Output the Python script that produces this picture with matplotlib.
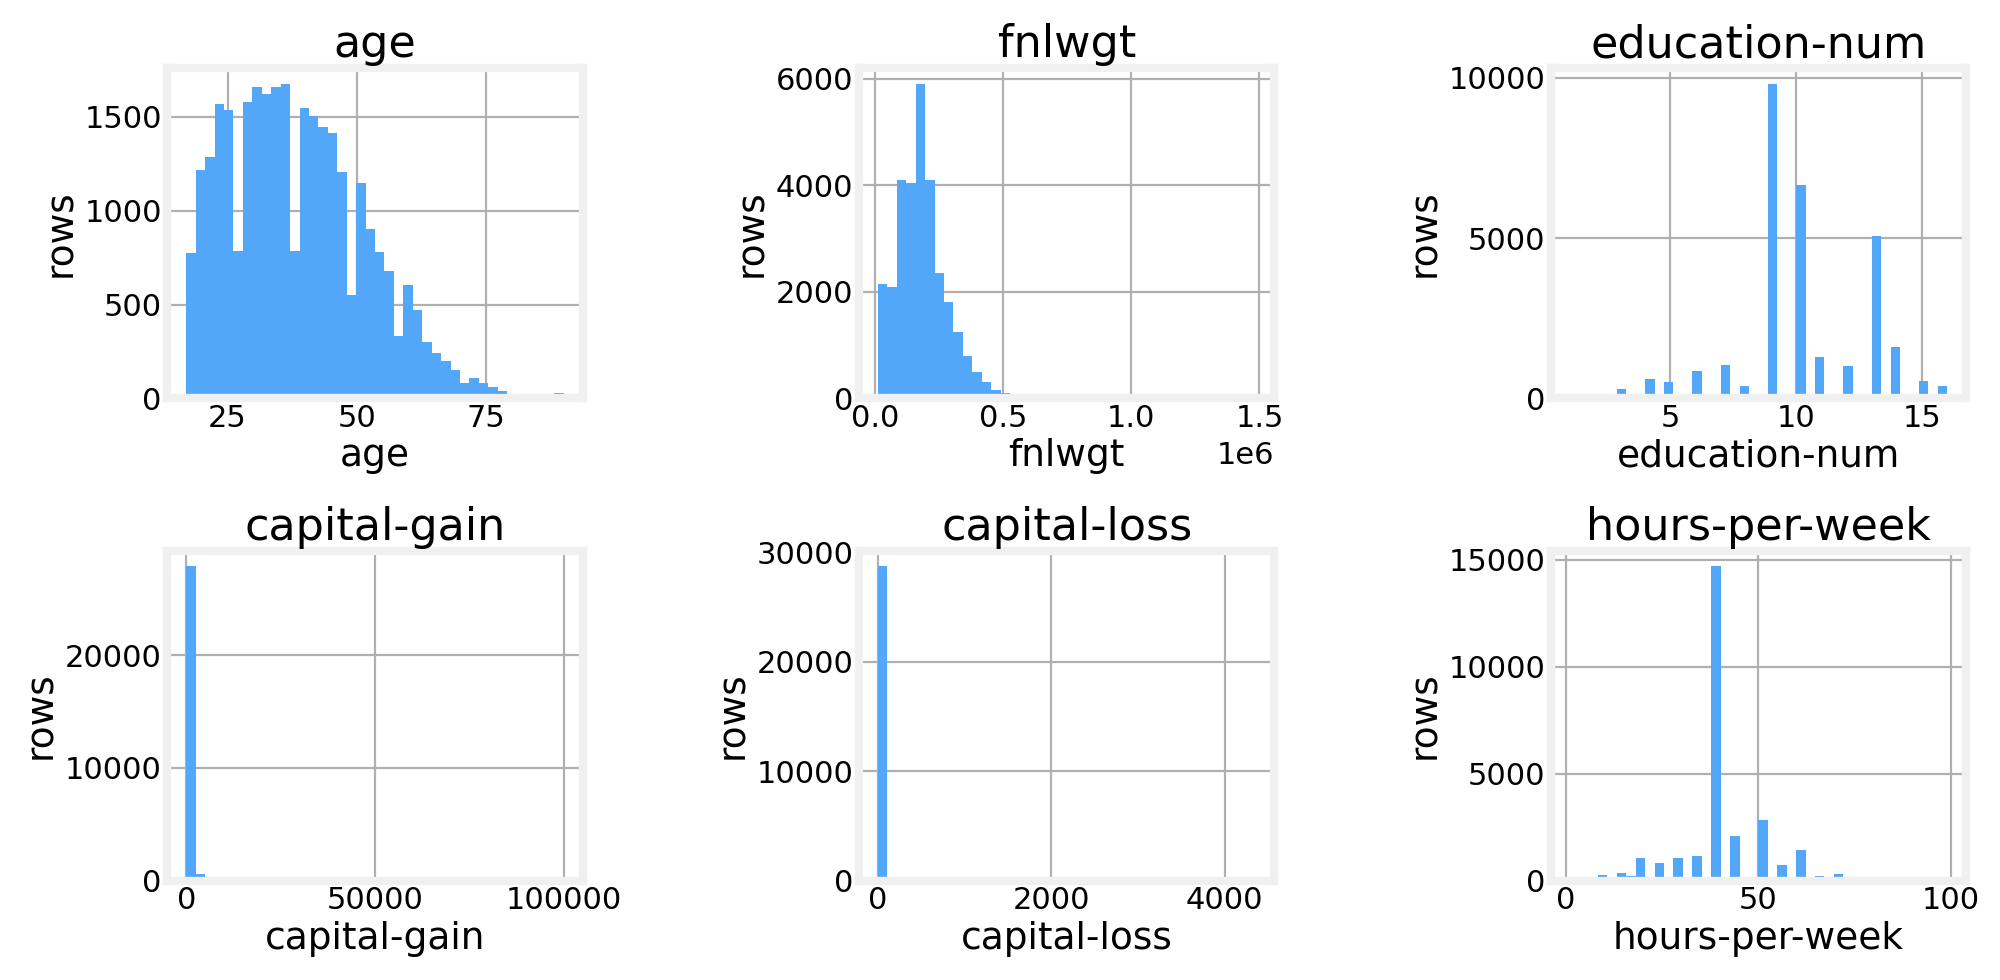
import matplotlib
matplotlib.use("Agg")
import matplotlib.pyplot as plt
from matplotlib.ticker import MultipleLocator
import numpy as np

plt.style.use("fivethirtyeight")
plt.rcParams['font.family'] = ['DejaVu Sans']

COLOR = "#52a7f8"

# age: 40 bins over 17..90
age_counts = [776, 1218, 1289, 1571, 1539, 787, 1578, 1661, 1623, 1661,
              1675, 787, 1547, 1506, 1446, 1414, 1205, 552, 1147, 901,
              780, 681, 330, 606, 472, 300, 240, 200, 150, 80,
              110, 80, 60, 40, 20, 15, 10, 5, 5, 30]
# fnlwgt: 40 bins over 12285..1484705
fnlwgt_counts = [2150, 2100, 4100, 4050, 5900, 4100, 2350, 1800, 1250, 800,
                 500, 300, 150, 100, 50, 30, 20, 10, 8, 5,
                 3, 2, 2, 1, 1, 1, 0, 0, 0, 0,
                 0, 0, 0, 0, 0, 0, 0, 0, 0, 1]
# education-num: values and counts
edu_values = list(range(1, 17))
edu_counts = [50, 150, 300, 600, 500, 850, 1050, 400, 9800, 6650, 1300, 1000, 5050, 1600, 550, 400]
# capital-gain: 40 bins over 0..99999
gain_counts = [27900, 550, 300, 100, 50, 30, 80, 20, 10, 5,
               3, 2, 2, 0, 0, 0, 0, 0, 0, 0,
               0, 0, 0, 0, 0, 0, 0, 0, 0, 0,
               0, 0, 0, 0, 0, 0, 0, 0, 0, 150]
# capital-loss: 40 bins over 0..4356
loss_counts = [28700, 0, 0, 0, 0, 0, 0, 0, 0, 0,
               0, 2, 5, 10, 20, 40, 90, 150, 120, 50,
               30, 10, 5, 2, 0, 0, 0, 0, 0, 0,
               0, 0, 0, 0, 0, 0, 0, 0, 0, 3]
# hours-per-week: values and counts
hours_values = [1, 5, 8, 10, 12, 15, 18, 20, 25, 30, 35, 40, 45, 50, 55, 60, 65, 70, 75, 80, 85, 90, 99]
hours_counts = [20, 60, 100, 250, 120, 350, 200, 1050, 800, 1050, 1150, 14700, 2100, 2850, 750, 1450, 200, 300, 60, 120, 20, 30, 80]

def edges(lo, hi, n=40):
    return np.linspace(lo, hi, n + 1)

fig, axes = plt.subplots(2, 3, figsize=(10, 4.9), dpi=200)
fig.patch.set_facecolor("white")

specs = [
    ("age", edges(17, 90), None, age_counts),
    ("fnlwgt", edges(12285, 1484705), None, fnlwgt_counts),
    ("education-num", edges(1, 16), edu_values, edu_counts),
    ("capital-gain", edges(0, 99999), None, gain_counts),
    ("capital-loss", edges(0, 4356), None, loss_counts),
    ("hours-per-week", edges(1, 99), hours_values, hours_counts),
]

for ax, (name, e, vals, counts) in zip(axes.flat, specs):
    if vals is None:
        data = (e[:-1] + e[1:]) / 2
    else:
        data = np.array(vals, dtype=float)
    ax.hist(data, bins=e, weights=counts, color=COLOR, alpha=1.0, linewidth=0)
    ax.set_facecolor("white")
    ax.set_title(name, fontsize=16, pad=4)
    ax.set_xlabel(name, fontsize=13.5, labelpad=2)
    ax.set_ylabel("rows", fontsize=13.5, labelpad=2)
    ax.tick_params(labelsize=11, pad=2)
    ax.xaxis.get_offset_text().set_fontsize(11)
    ax.grid(True, color="#b0b0b0", linewidth=0.8)
    ax.set_axisbelow(True)
    for s in ax.spines.values():
        s.set_visible(True)
        s.set_color("#f0f0f0")
        s.set_linewidth(3)

axes[0, 2].xaxis.set_major_locator(MultipleLocator(5))
axes[0, 2].yaxis.set_major_locator(MultipleLocator(5000))

fig.tight_layout(w_pad=2.5, h_pad=0.8, pad=0.6)
fig.savefig("out.png", facecolor="white")
